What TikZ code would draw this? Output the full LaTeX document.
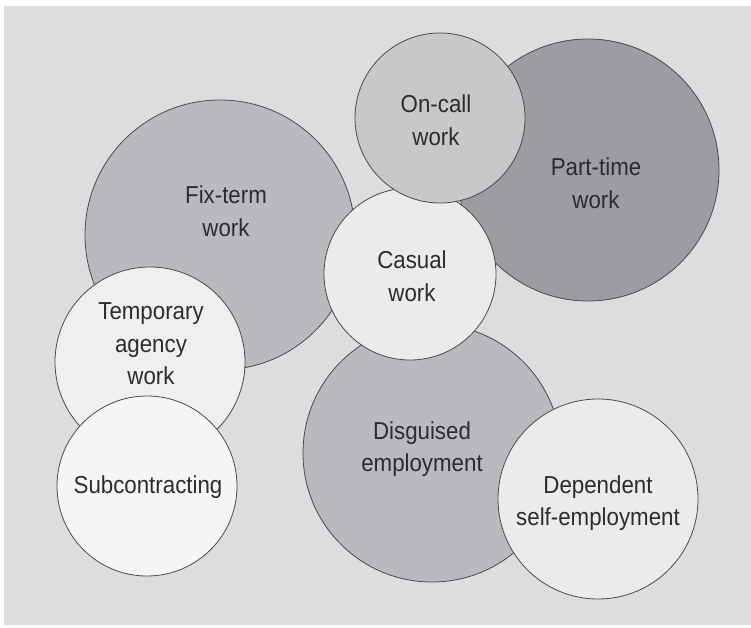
\documentclass[tikz,border=0pt]{standalone}
\usepackage{fontspec}
\setmainfont{Liberation Sans}[FakeStretch=0.91]
\definecolor{grey0}{HTML}{DCDDDF}
\definecolor{grey1}{HTML}{9C9DA0}
\definecolor{grey2}{HTML}{B9BABD}
\definecolor{grey3}{HTML}{C7C8CA}
\definecolor{grey4}{HTML}{EBEBEC}
\definecolor{grey5}{HTML}{EFEFF0}
\definecolor{grey6}{HTML}{F5F5F5}
\definecolor{edge}{HTML}{4A4A4C}
\definecolor{ink}{HTML}{2C2C2E}

\begin{document}
\begin{tikzpicture}[x=1pt, y=-1pt, align=center,
  blob/.style={circle, draw=edge, line width=0.8pt, inner sep=0pt, minimum size=#1},
  tag/.style={text=ink, font=\fontsize{24.5}{32.5}\selectfont}]
\useasboundingbox (0,0) rectangle (751,628);
\fill[grey0] (4,6) rectangle (751,625);

% circles, back to front
\node[blob=270, fill=grey2] (fixterm) at (220,235) {};
\node[blob=262, fill=grey1] (parttime) at (588,170) {};
\node[blob=258, fill=grey2] (disguised) at (432,453) {};
\node[blob=190, fill=grey5] (temp) at (150,362) {};
\node[blob=180, fill=grey6] (subcontr) at (147,486) {};
\node[blob=172, fill=grey4] (casual) at (410,274) {};
\node[blob=170, fill=grey3] (oncall) at (440,118) {};
\node[blob=200, fill=grey4] (dependent) at (598,499) {};

% labels
\node[tag] (fixtermtxt) at (226,211) {Fix-term\\work};
\node[tag] (oncalltxt) at (436,120) {On-call\\work};
\node[tag] (parttimetxt) at (596,183) {Part-time\\work};
\node[tag] (casualtxt) at (412,276) {Casual\\work};
\node[tag] (temptxt) at (151,344) {Temporary\\agency\\work};
\node[tag] (subcontrtxt) at (148,487) {Subcontracting};
\node[tag] (disguisedtxt) at (422,449) {Disguised\\employment};
\node[tag] (dependenttxt) at (598,503) {Dependent\\self-employment};
\end{tikzpicture}
\end{document}
